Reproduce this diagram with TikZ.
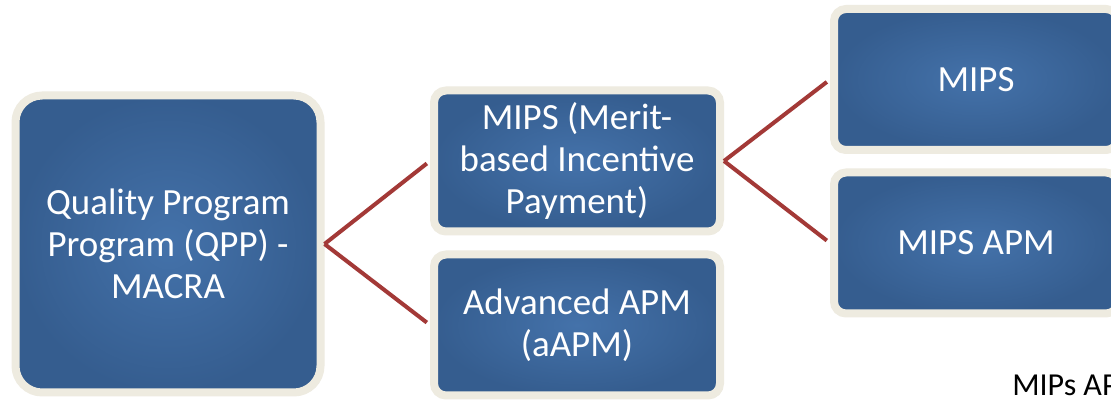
\documentclass[tikz,border=0pt]{standalone}
\usepackage{fontspec}
\setmainfont{Carlito}
\usetikzlibrary{shadows}
\definecolor{frame}{RGB}{238,235,224}
\definecolor{boxin}{RGB}{68,114,170}
\definecolor{boxout}{RGB}{53,93,143}
\definecolor{link}{RGB}{163,57,55}
\tikzset{
  card/.style={rectangle, rounded corners=#1, draw=frame, line width=6pt,
    inner color=boxin, outer color=boxout, text=white, align=center,
    font=\fontsize{27.7}{31.5}\selectfont, inner sep=0pt,
    drop shadow={opacity=0.25, shadow xshift=2pt, shadow yshift=-2pt}},
  link/.style={draw=link, line width=3pt, shorten >=3pt}
}
\begin{document}
\begin{tikzpicture}[x=0.75pt, y=-0.75pt]
  \clip (0,0) rectangle (1111,402);
  \fill[white] (0,0) rectangle (1111,402);

  % first level
  \node[card=20pt, minimum width=228.75pt, minimum height=222.75pt]
    (qpp) at (168,244) {Quality Program\\Program (QPP) -\\MACRA};

  % second level
  \node[card=9pt, minimum width=214.5pt, minimum height=105.75pt]
    (merit) at (577,161) {MIPS (Merit-\\based Incentive\\Payment)};
  \node[card=9pt, minimum width=214.5pt, minimum height=105.75pt]
    (aapm) at (577,325) {Advanced APM\\(aAPM)};

  % third level
  \node[card=9pt, minimum width=213pt, minimum height=105.75pt]
    (mips) at (976,79.5) {MIPS};
  \node[card=9pt, minimum width=213pt, minimum height=105.75pt]
    (mipsapm) at (976,243) {MIPS APM};

  % connectors
  \draw[link] (qpp.east) -- (merit.west);
  \draw[link] (qpp.east) -- (aapm.west);
  \draw[link] (merit.east) -- (mips.west);
  \draw[link] (merit.east) -- (mipsapm.west);

  % caption
  \node[anchor=base west, inner sep=0pt, font=\fontsize{24}{28}\selectfont]
    (caption) at (1012,396) {MIPs AP};
\end{tikzpicture}
\end{document}
